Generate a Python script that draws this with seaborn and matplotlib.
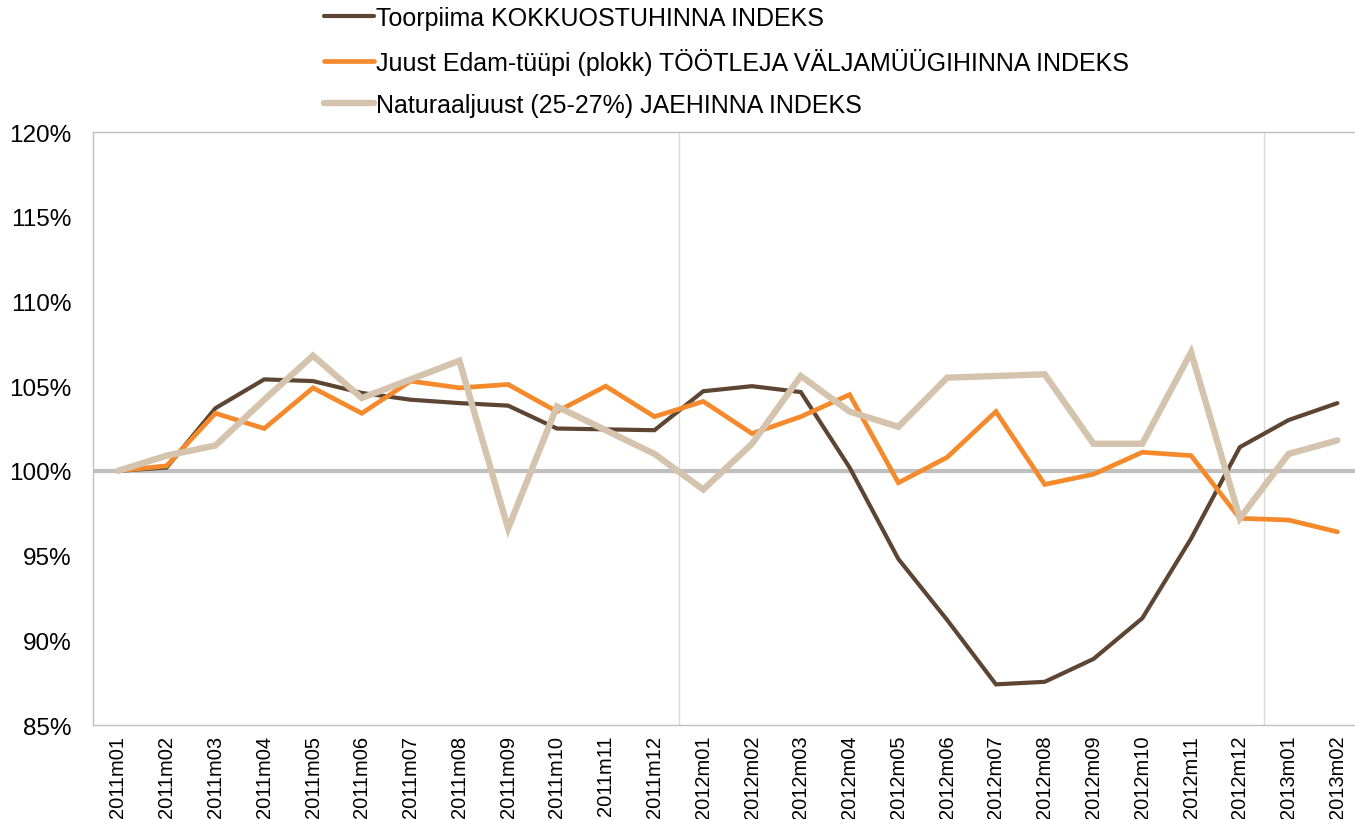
import pandas as pd
import seaborn as sns
import matplotlib.pyplot as plt
from matplotlib.ticker import FuncFormatter

# kuud
months = ['2011m01', '2011m02', '2011m03', '2011m04', '2011m05', '2011m06',
          '2011m07', '2011m08', '2011m09', '2011m10', '2011m11', '2011m12',
          '2012m01', '2012m02', '2012m03', '2012m04', '2012m05', '2012m06',
          '2012m07', '2012m08', '2012m09', '2012m10', '2012m11', '2012m12',
          '2013m01', '2013m02']

# indeksid (%)
toorpiima = [100.0, 100.2, 103.7, 105.4, 105.3, 104.6, 104.2, 104.0, 103.85, 102.5,
             102.45, 102.4, 104.7, 105.0, 104.65, 100.2, 94.8, 91.2, 87.4, 87.55,
             88.9, 91.3, 96.0, 101.4, 103.0, 104.0]
edam = [100.0, 100.3, 103.4, 102.5, 104.9, 103.4, 105.3, 104.9, 105.1, 103.5,
        105.0, 103.2, 104.1, 102.2, 103.2, 104.5, 99.3, 100.8, 103.5, 99.2,
        99.8, 101.1, 100.9, 97.2, 97.1, 96.4]
naturaal = [100.0, 100.9, 101.5, 104.2, 106.8, 104.3, 105.4, 106.5, 96.6, 103.8,
            102.4, 101.0, 98.9, 101.6, 105.6, 103.5, 102.6, 105.5, 105.6, 105.7,
            101.6, 101.6, 107.0, 97.2, 101.0, 101.8]

labels = ['Toorpiima KOKKUOSTUHINNA INDEKS',
          'Juust Edam-tüüpi (plokk) TÖÖTLEJA VÄLJAMÜÜGIHINNA INDEKS',
          'Naturaaljuust (25-27%) JAEHINNA INDEKS']
colors = ['#5C4633', '#F58A2C', '#D5C4AD']
widths = [3.0, 3.4, 4.6]

sns.set_style('white')
plt.rcParams['font.family'] = ['Liberation Sans', 'DejaVu Sans']
plt.rcParams['text.color'] = 'black'
plt.rcParams['xtick.color'] = 'black'
plt.rcParams['ytick.color'] = 'black'

fig = plt.figure(figsize=(13.55, 8.2), dpi=100)
ax = fig.add_axes([0.069, 0.1146, 0.936, 0.7232])

# 100% joon ja aasta piirid
ax.axhline(100, color='#BFBFBF', lw=3, zorder=1)
for xv in [11.5, 23.5]:
    ax.axvline(xv, color='#D9D9D9', lw=1, zorder=0)

x = list(range(len(months)))
for vals, lab, c, w in zip([toorpiima, edam, naturaal], labels, colors, widths):
    sns.lineplot(x=x, y=vals, ax=ax, color=c, lw=w, label=lab,
                 solid_capstyle='round', solid_joinstyle='miter', zorder=3)

ax.set_xlim(-0.5, len(months) - 0.5)
ax.set_ylim(85, 120)
ax.set_yticks(range(85, 121, 5))
ax.yaxis.set_major_formatter(FuncFormatter(lambda v, p: f'{v:.0f}%'))
ax.set_xticks(x)
ax.set_xticklabels(months, rotation=90, fontsize=14.5)
ax.tick_params(axis='y', labelsize=17.5, length=0, pad=16, labelcolor='black')
ax.tick_params(axis='x', length=0, pad=7, labelcolor='black')
for s in ax.spines.values():
    s.set_color('#BFBFBF')
    s.set_linewidth(1)

leg = ax.legend(loc='upper left', bbox_to_anchor=(0.239, 0.992), bbox_transform=fig.transFigure,
                frameon=False, fontsize=18, handlelength=2.0, handletextpad=0.1,
                labelspacing=0.72, borderaxespad=0, borderpad=0)
for t in leg.get_texts():
    t.set_color('black')

fig.savefig('out.png', dpi=100)
